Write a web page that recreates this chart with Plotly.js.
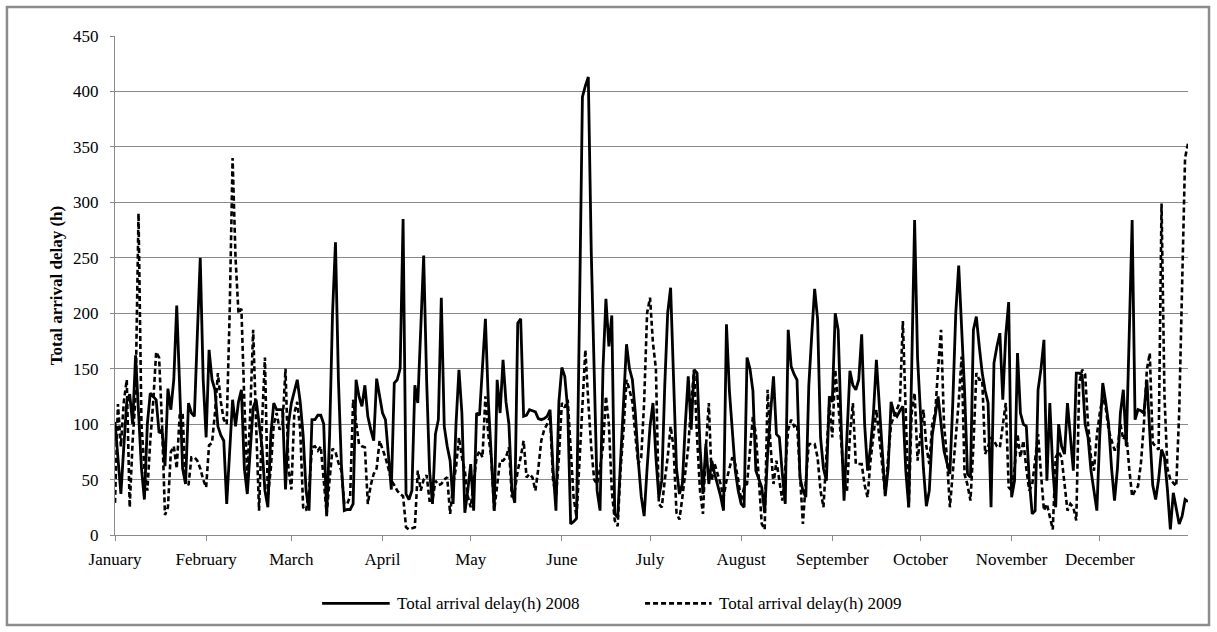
<!DOCTYPE html>
<html>
<head>
<meta charset="utf-8">
<script src="https://cdn.plot.ly/plotly-3.0.1.min.js"></script>
<style>
  html, body { margin: 0; padding: 0; background: #ffffff; }
  #chart { width: 1217px; height: 632px; }
</style>
</head>
<body>
<div id="chart"></div>
<script>
// Month labels sit on the first day of each month (2008 calendar, leap year)
const monthLabels = ['January', 'February', 'March', 'April', 'May', 'June',
                     'July', 'August', 'September', 'October', 'November', 'December'];
const monthStartDay = [0, 31, 60, 91, 121, 152, 182, 213, 244, 274, 305, 335];

// Daily total arrival delay in hours, 2008
const delay2008 = [
  102, 65, 37, 80, 120, 127, 100, 162, 110, 60,
  32, 100, 128, 125, 122, 92, 95, 62, 132, 113,
  140, 207, 130, 60, 46, 119, 110, 107, 180, 250,
  140, 88, 167, 140, 131, 98, 90, 85, 28, 80,
  122, 98, 120, 131, 60, 37, 80, 115, 122, 100,
  80, 40, 25, 90, 119, 113, 113, 113, 41, 100,
  119, 130, 140, 120, 90, 40, 22, 104, 104, 108,
  108, 100, 17, 90, 200, 264, 140, 64, 22, 23,
  23, 28, 140, 125, 116, 135, 107, 95, 85, 141,
  125, 110, 104, 70, 41, 137, 140, 150, 285, 37,
  32, 40, 135, 119, 180, 252, 140, 58, 28, 91,
  104, 214, 98, 80, 67, 28, 100, 149, 110, 20,
  40, 64, 22, 110, 108, 150, 195, 120, 76, 22,
  140, 110, 158, 120, 100, 40, 29, 191, 195, 107,
  108, 113, 112, 111, 105, 104, 105, 107, 113, 60,
  22, 120, 151, 143, 113, 10, 12, 15, 200, 395,
  405, 413, 256, 155, 40, 22, 150, 213, 170, 198,
  19, 16, 70, 113, 172, 150, 140, 110, 67, 35,
  17, 60, 98, 119, 70, 34, 49, 134, 200, 223,
  143, 60, 37, 46, 100, 143, 95, 149, 146, 80,
  37, 82, 46, 67, 55, 46, 35, 22, 190, 130,
  98, 58, 40, 28, 25, 160, 150, 130, 58, 50,
  43, 20, 73, 110, 143, 91, 88, 55, 28, 185,
  152, 145, 140, 52, 40, 34, 134, 180, 222, 195,
  88, 60, 49, 125, 120, 200, 185, 100, 31, 90,
  148, 135, 131, 140, 181, 100, 58, 79, 110, 158,
  119, 80, 35, 60, 120, 110, 107, 112, 116, 58,
  25, 149, 284, 160, 113, 60, 26, 40, 90, 110,
  125, 100, 76, 65, 55, 120, 200, 243, 190, 130,
  55, 52, 185, 197, 170, 146, 130, 119, 25, 155,
  170, 182, 122, 180, 210, 34, 49, 164, 110, 100,
  98, 50, 19, 22, 131, 150, 176, 49, 119, 60,
  25, 100, 80, 73, 119, 90, 58, 146, 146, 144,
  100, 88, 58, 40, 22, 91, 137, 120, 100, 60,
  31, 60, 110, 131, 80, 180, 284, 104, 113, 112,
  110, 140, 92, 45, 32, 50, 77, 70, 41, 5,
  38, 25, 10, 17, 32, 30
];

// Daily total arrival delay in hours, 2009
const delay2009 = [
  29, 118, 80, 120, 140, 25, 85, 125, 290, 100,
  60, 40, 85, 120, 165, 160, 100, 18, 25, 75,
  80, 60, 108, 110, 48, 45, 70, 70, 67, 60,
  50, 43, 81, 83, 110, 146, 120, 104, 100, 200,
  340, 250, 200, 204, 120, 50, 110, 185, 100, 22,
  100, 160, 34, 60, 100, 110, 95, 100, 150, 60,
  41, 110, 120, 95, 25, 22, 40, 79, 80, 76,
  80, 50, 19, 50, 78, 75, 65, 58, 28, 28,
  35, 122, 100, 82, 80, 79, 28, 45, 55, 60,
  85, 78, 70, 60, 49, 45, 40, 37, 35, 7,
  5, 6, 7, 58, 40, 50, 54, 31, 31, 49,
  45, 46, 50, 52, 19, 45, 61, 88, 70, 58,
  35, 25, 50, 70, 76, 70, 125, 90, 70, 22,
  45, 67, 67, 70, 79, 34, 40, 58, 70, 85,
  52, 55, 52, 40, 60, 85, 95, 100, 107, 50,
  34, 70, 119, 115, 122, 80, 34, 16, 64, 110,
  167, 120, 79, 50, 46, 60, 80, 125, 100, 40,
  13, 8, 60, 95, 140, 131, 120, 90, 64, 70,
  120, 200, 214, 173, 150, 28, 25, 49, 70, 98,
  79, 20, 14, 34, 55, 79, 119, 149, 88, 40,
  19, 79, 119, 49, 64, 55, 46, 34, 49, 60,
  70, 64, 50, 31, 43, 46, 80, 107, 91, 50,
  10, 5, 131, 80, 46, 67, 50, 31, 60, 95,
  104, 98, 100, 60, 10, 49, 82, 82, 82, 70,
  40, 25, 70, 119, 88, 149, 120, 88, 50, 40,
  90, 119, 64, 64, 64, 45, 34, 67, 90, 113,
  88, 60, 37, 70, 100, 107, 113, 120, 193, 100,
  25, 110, 128, 67, 90, 113, 80, 64, 100, 110,
  150, 185, 100, 70, 25, 60, 88, 120, 161, 55,
  45, 31, 80, 146, 140, 140, 73, 80, 88, 85,
  80, 79, 100, 119, 43, 40, 60, 91, 70, 85,
  60, 40, 45, 70, 91, 55, 22, 28, 15, 5,
  70, 75, 70, 45, 22, 28, 25, 13, 137, 149,
  145, 100, 70, 58, 90, 110, 125, 115, 95, 85,
  77, 77, 100, 86, 92, 60, 35, 40, 44, 65,
  100, 149, 164, 83, 80, 77, 299, 125, 60, 50,
  47, 44, 110, 230, 340, 353
];

const seriesNames = ['Total arrival delay(h) 2008', 'Total arrival delay(h) 2009'];

// Day-of-year position for each value
const dayIndex = delay2008.map((_, i) => i);

const serif = 'Liberation Serif, Times New Roman, serif';
const gridGray = '#8a8a8a';
const solidLine = { color: '#000000', width: 2.8 };
const dashedLine = { color: '#000000', width: 2.6, dash: '5px,3px' };

const traces = [
  {
    x: dayIndex, y: delay2008, type: 'scatter', mode: 'lines', name: seriesNames[0],
    line: solidLine, showlegend: false
  },
  {
    x: dayIndex.slice(0, delay2009.length), y: delay2009, type: 'scatter', mode: 'lines', name: seriesNames[1],
    line: dashedLine, showlegend: false
  }
];

// Legend keys and labels drawn below the plot, in paper coordinates
const legendY = -0.137;
const shapes = [
  { type: 'line', xref: 'paper', yref: 'paper', x0: 0.193, x1: 0.256, y0: legendY, y1: legendY,
    line: solidLine },
  { type: 'line', xref: 'paper', yref: 'paper', x0: 0.494, x1: 0.556, y0: legendY, y1: legendY,
    line: dashedLine },
  // chart frame
  { type: 'rect', xref: 'paper', yref: 'paper', x0: -0.1007, x1: 1.0196, y0: -0.1804, y1: 1.0581,
    line: { color: '#8c8c8c', width: 2.5 }, fillcolor: 'rgba(0,0,0,0)' }
];

const annotations = [
  { xref: 'paper', yref: 'paper', x: 0.261, y: legendY, xanchor: 'left', yanchor: 'middle',
    text: seriesNames[0], showarrow: false, font: { family: serif, size: 17, color: '#000000' } },
  { xref: 'paper', yref: 'paper', x: 0.561, y: legendY, xanchor: 'left', yanchor: 'middle',
    text: seriesNames[1], showarrow: false, font: { family: serif, size: 17, color: '#000000' } }
];

const layout = {
  width: 1217,
  height: 632,
  margin: { l: 115, r: 29, t: 36, b: 97 },
  paper_bgcolor: '#ffffff',
  plot_bgcolor: '#ffffff',
  showlegend: false,
  xaxis: {
    range: [0, 365],
    tickmode: 'array',
    tickvals: monthStartDay,
    ticktext: monthLabels,
    ticks: 'outside', ticklen: 5, tickwidth: 1, tickcolor: gridGray,
    showline: true, linecolor: gridGray, linewidth: 1,
    showgrid: false, zeroline: false,
    tickfont: { family: serif, size: 17, color: '#000000' },
    ticklabelstandoff: 4
  },
  yaxis: {
    range: [0, 450],
    dtick: 50,
    ticks: 'outside', ticklen: 4, tickwidth: 1, tickcolor: gridGray,
    showline: true, linecolor: gridGray, linewidth: 1,
    showgrid: true, gridcolor: gridGray, gridwidth: 1,
    zeroline: false,
    tickfont: { family: serif, size: 17, color: '#000000' },
    ticklabelstandoff: 8,
    title: { text: '<b>Total arrival delay (h)</b>', standoff: 6,
             font: { family: serif, size: 17, color: '#000000' } }
  },
  shapes: shapes,
  annotations: annotations
};

Plotly.newPlot('chart', traces, layout, { displayModeBar: false, staticPlot: true });
</script>
</body>
</html>
